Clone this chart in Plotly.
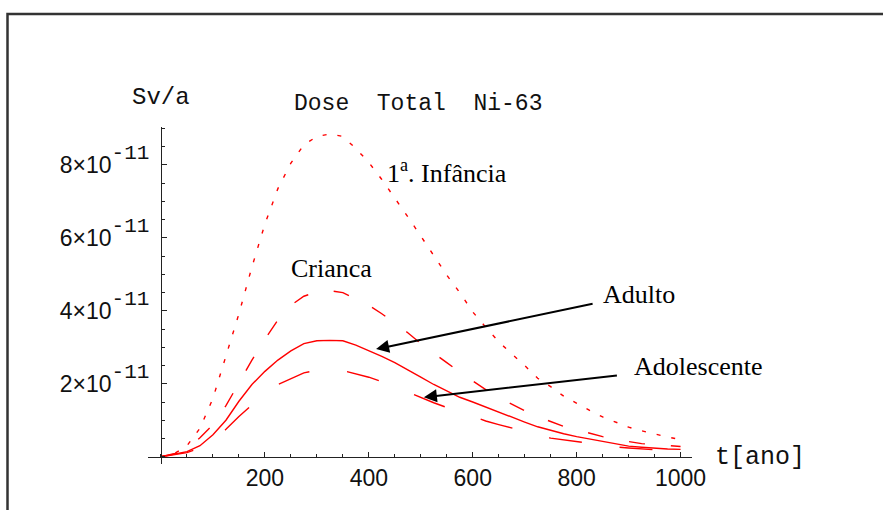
import plotly.graph_objects as go

# ---- data (dose in units of 1e-11 Sv/a) ----
t_anos = [0, 25, 50, 75, 100, 125, 150, 175, 200, 225, 250, 275, 300, 325, 350, 375,
          400, 425, 450, 475, 500, 525, 550, 575, 600, 625, 650, 675, 700, 725, 750,
          775, 800, 825, 850, 875, 900, 925, 950, 975, 1000]

infancia = [0.00, 0.08, 0.30, 0.78, 1.60, 2.75, 3.92, 5.20, 6.38, 7.35, 8.05, 8.55, 8.78,
            8.85, 8.78, 8.45, 8.07, 7.60, 7.10, 6.58, 6.05, 5.52, 4.98, 4.50, 3.97, 3.55,
            3.15, 2.82, 2.50, 2.15, 1.92, 1.66, 1.46, 1.27, 1.09, 0.94, 0.81, 0.71, 0.62,
            0.54, 0.47]

crianca = [0.00, 0.08, 0.22, 0.52, 0.88, 1.40, 2.02, 2.65, 3.22, 3.75, 4.15, 4.40, 4.52,
           4.55, 4.50, 4.32, 4.15, 3.92, 3.66, 3.40, 3.10, 2.85, 2.58, 2.32, 2.07, 1.84,
           1.62, 1.43, 1.26, 1.10, 0.96, 0.83, 0.74, 0.64, 0.55, 0.47, 0.41, 0.36, 0.33,
           0.30, 0.28]

adulto = [0.00, 0.07, 0.14, 0.30, 0.60, 1.00, 1.52, 1.98, 2.34, 2.65, 2.90, 3.10, 3.18,
          3.19, 3.18, 3.06, 2.91, 2.75, 2.58, 2.37, 2.18, 1.98, 1.80, 1.63, 1.50, 1.36,
          1.21, 1.07, 0.95, 0.82, 0.72, 0.63, 0.55, 0.48, 0.41, 0.35, 0.29, 0.26, 0.23,
          0.21, 0.20]

adolescente = [0.00, 0.05, 0.11, 0.24, 0.45, 0.75, 1.10, 1.42, 1.72, 1.98, 2.15, 2.30, 2.37,
               2.39, 2.36, 2.28, 2.18, 2.06, 1.93, 1.77, 1.62, 1.48, 1.35, 1.22, 1.10, 0.98,
               0.88, 0.78, 0.69, 0.60, 0.51, 0.46, 0.41, 0.36, 0.31, 0.27, 0.24, 0.21, 0.18,
               0.16, 0.14]

x_tickvals = [200, 400, 600, 800, 1000]
x_ticktext = ["200", "400", "600", "800", "1000"]
y_tickvals = [2, 4, 6, 8]
y_mant = ["2", "4", "6", "8"]
EXP = "-11"

RED = "#ff0000"
MONO = "Liberation Mono, Courier New, monospace"
SANS = "Liberation Sans, Arial, sans-serif"
SERIF = "Liberation Serif, Times New Roman, serif"

y_ticktext = [
    m + "×10<sup><span style=\"font-family:Liberation Mono;font-size:21px;baseline-shift:4px\">"
    + EXP + "</span></sup>" for m in y_mant
]

fig = go.Figure()
series = [
    (infancia, "4px,11px"),
    (crianca, "16px,26px"),
    (adulto, "solid"),
    (adolescente, "33px,38px"),
]
for vals, dash in series:
    fig.add_trace(go.Scatter(x=t_anos, y=vals, mode="lines",
                             line=dict(color=RED, width=1.4, dash=dash),
                             showlegend=False, hoverinfo="skip"))

XR = [-25, 1022]
YR = [-0.2, 9.04]

fig.update_layout(
    width=883, height=510,
    margin=dict(l=148, r=191, t=127, b=46, pad=0),
    paper_bgcolor="white", plot_bgcolor="white",
    showlegend=False,
    title=dict(text="Dose\u00a0\u00a0Total\u00a0\u00a0Ni-63", x=294 / 883, xanchor="left",
               y=1 - 102 / 510, yanchor="middle", font=dict(family=MONO, size=23, color="#111")),
    xaxis=dict(range=XR, anchor="free", position=0.2 / 9.24, showgrid=False, zeroline=False,
               showline=True, linecolor="#222", linewidth=1,
               tickvals=x_tickvals, ticktext=x_ticktext, ticks="inside", ticklen=5,
               tickcolor="#222", tickwidth=1,
               tickfont=dict(family=SANS, size=23, color="#111"), ticklabelstandoff=1,
               minor=dict(dtick=50, tick0=0, ticks="inside", ticklen=3, tickcolor="#222",
                          tickwidth=1)),
    yaxis=dict(range=YR, anchor="free", position=25 / 1047, showgrid=False, zeroline=False,
               showline=True, linecolor="#222", linewidth=1,
               tickvals=y_tickvals, ticktext=y_ticktext, ticks="inside", ticklen=5,
               tickcolor="#222", tickwidth=1,
               tickfont=dict(family=SANS, size=23, color="#111"), ticklabelstandoff=7,
               minor=dict(dtick=0.5, tick0=0, ticks="inside", ticklen=3, tickcolor="#222",
                          tickwidth=1)),
)

# frame around the figure (top and left edges visible, right/bottom run off the page)
fig.add_shape(type="rect", xref="paper", yref="paper",
              x0=(7.5 - 148) / 544, x1=(900 - 148) / 544,
              y0=(464 - 530) / 337, y1=(464 - 14) / 337,
              line=dict(color="#333", width=2.5))

# axis labels
fig.add_annotation(text="Sv/a", xref="paper", yref="paper", x=(130 - 148) / 544,
                   y=(464 - 97) / 337, xanchor="left", yanchor="middle", showarrow=False,
                   font=dict(family=MONO, size=24, color="#111"))
fig.add_annotation(text="t[ano]", xref="paper", yref="paper", x=(713 - 148) / 544,
                   y=(464 - 457) / 337, xanchor="left", yanchor="middle", showarrow=False,
                   font=dict(family=MONO, size=25, color="#111"))

# curve labels without arrows
labels = [
    ("1<sup>a</sup>. Infância", 433, 7.34),
    ("Crianca", 248, 4.74),
]
for txt, lx, ly in labels:
    fig.add_annotation(text=txt, x=lx, y=ly, xanchor="left", yanchor="bottom",
                       showarrow=False, borderpad=0,
                       font=dict(family=SERIF, size=26, color="black"))

# curve labels with arrows: (text, head t, head dose, text offset px x, y, pad)
arrow_labels = [
    ("Adulto", 414, 2.95, 263, -55, 10),
    ("Adolescente", 506, 1.63, 275, -31, 17),
]
for txt, hx, hy, ax, ay, pad in arrow_labels:
    fig.add_annotation(text=txt, x=hx, y=hy, ax=ax, ay=ay, showarrow=True,
                       arrowhead=2, arrowsize=1.3, arrowwidth=2, arrowcolor="black",
                       standoff=0, borderpad=pad,
                       font=dict(family=SERIF, size=26, color="black"))

fig.write_html("out.html", config={"displayModeBar": False},
               post_script="document.body.style.margin='0px';")
